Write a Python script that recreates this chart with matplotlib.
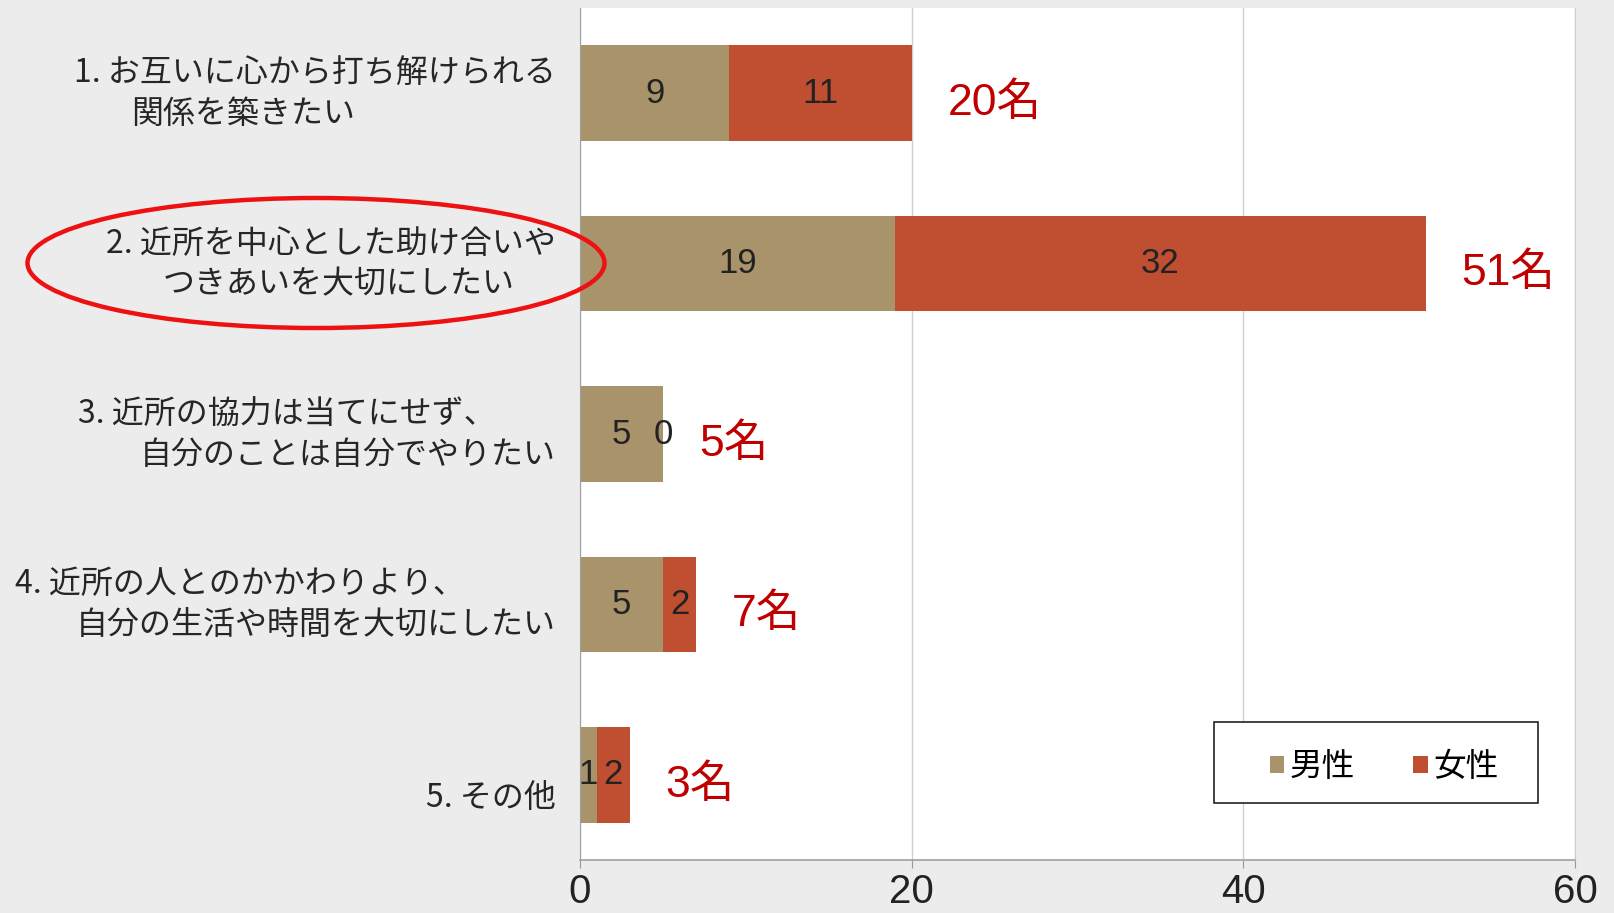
import matplotlib
matplotlib.use("Agg")
import matplotlib.pyplot as plt
from matplotlib.patches import Ellipse, Rectangle
import numpy as np

plt.rcParams['font.family'] = ['Noto Sans CJK JP', 'DejaVu Sans']

# ---- data ----
categories = [
    ["1. お互いに心から打ち解けられる", "関係を築きたい"],
    ["2. 近所を中心とした助け合いや", "つきあいを大切にしたい"],
    ["3. 近所の協力は当てにせず、", "自分のことは自分でやりたい"],
    ["4. 近所の人とのかかわりより、", "自分の生活や時間を大切にしたい"],
    ["5. その他"],
]
male = [9, 19, 5, 5, 1]
female = [11, 32, 0, 2, 2]
series_names = ["男性", "女性"]
total_suffix = "名"
xticks = [0, 20, 40, 60]

# ---- style ----
C_MALE = "#A8936B"
C_FEMALE = "#C04F31"
C_TOTAL = "#C00000"
BG = "#ECECEC"
num_font = ['Liberation Sans', 'Noto Sans CJK JP']

W, H = 1614, 913
fig = plt.figure(figsize=(W / 100, H / 100), dpi=100, facecolor=BG)
ax = fig.add_axes([580 / W, 1 - 860 / H, (1575 - 580) / W, (860 - 8) / H])
ax.set_facecolor("white")

y = np.arange(len(categories))
bh = 0.56
b1 = ax.barh(y, male, height=bh, color=C_MALE, zorder=2)
b2 = ax.barh(y, female, left=male, height=bh, color=C_FEMALE, zorder=2)

ax.set_xlim(0, 60)
ax.set_ylim(len(categories) - 0.5, -0.5)
ax.set_xticks(xticks)
ax.set_xticklabels([str(t) for t in xticks], family=num_font, fontsize=29, color="#222222")
ax.tick_params(axis="x", length=6, color="#999999", pad=3)
ax.set_yticks([])
ax.grid(axis="x", color="#d0d0d0", lw=1.0, zorder=0)
ax.spines["top"].set_visible(False)
ax.spines["right"].set_color("#d0d0d0")
ax.spines["left"].set_color("#a0a0a0")
ax.spines["bottom"].set_color("#a0a0a0")
ax.spines["bottom"].set_linewidth(1.2)

# segment labels
for i in range(len(categories)):
    ax.text(male[i] / 2, y[i], str(male[i]), ha="center", va="center",
            family=num_font, fontsize=25, color="#222222", zorder=3)
    ax.text(male[i] + female[i] / 2, y[i], str(female[i]), ha="center", va="center",
            family=num_font, fontsize=25, color="#222222", zorder=3)
    tot = male[i] + female[i]
    ax.annotate(f"{tot}{total_suffix}", xy=(tot, y[i]), xytext=(36, -10),
                textcoords="offset pixels", ha="left", va="center",
                family=num_font, fontsize=32, color=C_TOTAL, zorder=3)

# category labels (lines placed at right edges)
right_edges = [[556, 355], [556, 515], [496, 556], [465, 556], [556]]
for i, lines in enumerate(categories):
    dys = [20, -21] if len(lines) == 2 else [-23]
    for line, rx, dy in zip(lines, right_edges[i], dys):
        ax.annotate(line, xy=(0, y[i]), xytext=(rx - 580, dy),
                    textcoords="offset pixels", ha="right", va="center",
                    fontsize=23, color="#262626", annotation_clip=False)

# legend
fig.patches.append(Rectangle((1214 / W, 1 - 803 / H), (1538 - 1214) / W, (803 - 722) / H,
                             transform=fig.transFigure, facecolor="white",
                             edgecolor="#222222", lw=1.2, zorder=5))
leg = fig.legend([b1, b2], series_names, loc="center",
                 bbox_to_anchor=(1384 / W, 1 - 767 / H), ncol=2, frameon=False,
                 fontsize=23.5, handlelength=0.45, handleheight=0.45,
                 handletextpad=0.15, columnspacing=1.8)
leg.set_zorder(6)

# highlight ellipse
fig.patches.append(Ellipse((316 / W, 1 - 263 / H), 577 / W, 130 / H,
                           transform=fig.transFigure, fill=False,
                           edgecolor="#EE1111", lw=3.2, zorder=10))

fig.savefig("out.png", dpi=100, facecolor=BG)
